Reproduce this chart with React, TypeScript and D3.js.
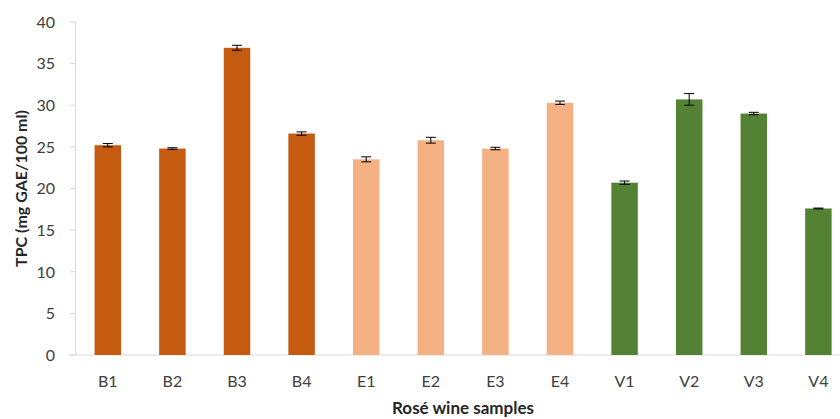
import React, { useEffect, useRef } from "react";
import * as d3 from "d3";

const samples = ["B1", "B2", "B3", "B4", "E1", "E2", "E3", "E4", "V1", "V2", "V3", "V4"];
const tpc = [25.2, 24.8, 36.9, 26.6, 23.5, 25.8, 24.8, 30.3, 20.7, 30.7, 29.0, 17.6];
const sd = [0.2, 0.1, 0.3, 0.2, 0.3, 0.35, 0.15, 0.2, 0.2, 0.7, 0.15, 0.05];
const groupColors: Record<string, string> = { B: "#C55A11", E: "#F4B183", V: "#548235" };
const yTicks = [0, 5, 10, 15, 20, 25, 30, 35, 40];

const App = () => {
  const svgRef = useRef<SVGSVGElement>(null);

  useEffect(() => {
    const width = 840;
    const height = 419;
    const svg = d3.select(svgRef.current).attr("width", width).attr("height", height);
    svg.selectAll("*").remove();

    const font = "Lato, 'Open Sans', sans-serif";
    const x0 = 75.5;
    const y0 = 355;

    // band scale runs a bit past the right edge, as in the original crop
    const x = d3.scaleBand().domain(samples).range([x0, x0 + 12 * 64.6]).paddingInner(0.59).paddingOuter(0.295);
    const y = d3.scaleLinear().domain([0, 40]).range([y0, 22]);

    // axes
    const g = svg.append("g");
    g.append("line")
      .attr("x1", x0).attr("x2", x0)
      .attr("y1", y(40)).attr("y2", y0)
      .attr("stroke", "#d9d9d9").attr("stroke-width", 1);
    g.append("line")
      .attr("x1", 69).attr("x2", width)
      .attr("y1", y0).attr("y2", y0)
      .attr("stroke", "#d9d9d9").attr("stroke-width", 1.2);

    yTicks.forEach((t) => {
      g.append("line")
        .attr("x1", 70).attr("x2", x0)
        .attr("y1", y(t)).attr("y2", y(t))
        .attr("stroke", "#d9d9d9");
      g.append("text")
        .attr("x", 55).attr("y", y(t))
        .attr("dy", "0.36em")
        .attr("text-anchor", "end")
        .style("font-family", font).style("font-size", "16px").style("fill", "#404040")
        .text(t);
    });

    // bars
    const bw = x.bandwidth();
    samples.forEach((s, i) => {
      const cx = (x(s) as number) + bw / 2;
      g.append("rect")
        .attr("x", x(s) as number).attr("width", bw)
        .attr("y", y(tpc[i])).attr("height", y0 - y(tpc[i]))
        .attr("fill", groupColors[s[0]]);
      // error bar
      const top = y(tpc[i] + sd[i]);
      const bot = y(tpc[i] - sd[i]);
      g.append("line").attr("x1", cx).attr("x2", cx).attr("y1", top).attr("y2", bot).attr("stroke", "#000").attr("stroke-width", 1);
      [top, bot].forEach((yy) => {
        g.append("line").attr("x1", cx - 5).attr("x2", cx + 5).attr("y1", yy).attr("y2", yy).attr("stroke", "#000").attr("stroke-width", 1);
      });
      g.append("text")
        .attr("x", cx).attr("y", 387)
        .attr("text-anchor", "middle")
        .style("font-family", font).style("font-size", "16px").style("fill", "#404040")
        .text(s);
    });

    // axis titles
    g.append("text")
      .attr("x", 463).attr("y", 414)
      .attr("text-anchor", "middle")
      .style("font-family", font).style("font-size", "17px").style("font-weight", "bold").style("fill", "#262626")
      .text("Rosé wine samples");
    g.append("text")
      .attr("transform", `translate(27, ${y(20)}) rotate(-90)`)
      .attr("text-anchor", "middle")
      .style("font-family", font).style("font-size", "16px").style("font-weight", "bold").style("fill", "#262626")
      .text("TPC (mg GAE/100 ml)");
  }, []);

  return <svg ref={svgRef} style={{ position: "absolute", left: 0, top: 0, background: "#fff" }} />;
};

export default App;
